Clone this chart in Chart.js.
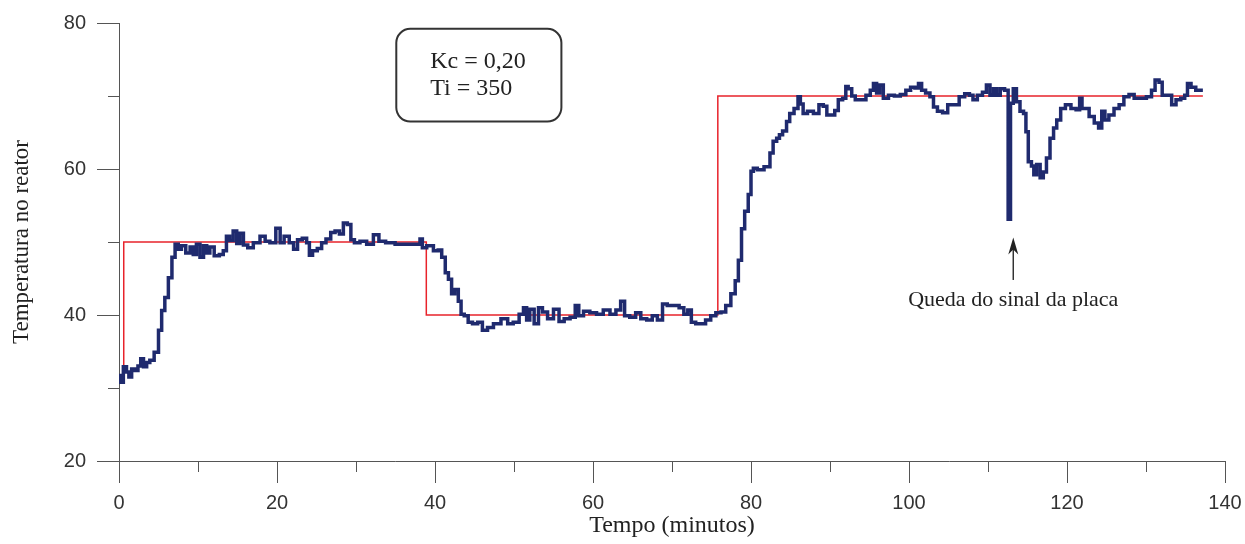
<!DOCTYPE html>
<html>
<head>
<meta charset="utf-8">
<script src="https://cdn.jsdelivr.net/npm/chart.js@4/dist/chart.umd.min.js"></script>
<style>
  body { margin: 0; background: #fff; }
  canvas { display: block; }
</style>
</head>
<body>
<canvas id="grafico" width="1245" height="544"></canvas>
<script>
// Temperatura medida (linha azul)
var tempo = [0.0,0.3,0.8,1.1,1.4,1.8,2.2,2.6,2.9,3.3,3.7,4.1,4.8,5.2,5.6,6.0,6.5,6.9,7.3,7.7,
  8.1,8.8,9.2,9.6,10.0,10.5,10.9,11.3,11.7,12.4,13.0,13.4,13.8,14.2,14.7,15.1,15.5,16.0,16.6,17.4,
  18.3,18.7,19.5,20.2,20.6,21.2,21.9,22.3,22.9,23.5,24.0,24.2,24.8,25.4,25.9,26.5,27.1,27.6,28.2,28.6,
  29.2,29.5,30.1,30.9,31.8,32.6,33.2,34.3,35.6,36.8,37.9,38.3,38.5,39.4,40.2,40.6,41.1,41.5,41.9,42.3,
  42.7,43.2,43.4,44.0,44.4,45.1,45.7,46.3,47.0,47.8,48.9,49.5,50.3,51.0,51.4,51.8,52.2,52.9,53.3,53.9,
  54.6,55.4,56.0,56.7,57.5,58.0,58.4,59.2,60.0,60.9,61.7,62.6,63.2,63.8,64.2,65.1,65.7,66.4,67.2,67.8,
  68.5,69.1,69.7,70.6,71.2,71.8,72.2,72.7,73.3,73.9,74.6,75.2,75.9,76.5,77.1,77.8,78.2,78.6,79.0,79.4,
  79.9,80.1,80.5,81.1,82.2,82.6,83.0,83.5,83.7,84.3,84.7,85.1,85.8,86.1,86.4,86.8,87.5,88.3,88.9,89.4,
  89.8,90.4,90.8,91.3,91.9,92.1,92.5,93.0,93.4,94.2,94.9,95.3,95.7,96.1,96.5,97.0,97.8,98.5,99.3,99.9,
  100.5,101.0,101.4,101.8,102.4,102.9,103.3,103.9,104.6,105.2,106.0,106.7,107.4,107.9,108.3,109.0,109.6,110.0,110.5,110.9,
  111.3,111.8,112.4,112.7,113.0,113.4,113.8,114.3,114.7,114.9,115.3,115.7,115.9,116.4,116.8,117.2,117.6,118.1,118.5,
  118.9,119.5,120.1,120.9,121.4,121.8,122.0,122.5,123.1,123.8,124.2,124.6,125.0,125.6,126.3,126.9,127.5,128.2,128.8,129.6,
  130.5,130.9,131.4,131.9,132.2,133.0,133.5,134.1,134.7,135.1,135.4,136.0,136.6,137.2];
var temperatura = [31.7,30.8,32.9,32.2,31.5,32.6,32.4,33.0,34.0,32.9,33.5,33.8,34.9,37.9,40.6,42.4,45.1,47.9,49.7,49.0,
  49.5,48.5,49.3,48.3,49.7,47.9,49.5,48.5,49.3,48.1,48.3,48.8,50.8,50.2,51.5,49.8,51.2,49.6,49.2,49.9,
  50.8,50.1,49.9,51.9,49.9,50.8,49.9,49.0,50.3,50.5,49.9,48.2,48.8,49.1,49.9,50.4,51.3,51.5,51.1,52.6,
  52.4,50.3,49.9,50.1,49.7,51.0,50.1,49.9,49.7,49.7,49.7,50.4,49.2,49.5,48.8,48.9,47.9,45.8,44.9,42.9,
  43.5,41.9,40.1,39.9,39.0,38.8,39.0,37.9,38.3,38.8,39.5,38.8,39.0,40.1,41.0,39.3,40.8,38.8,41.0,40.4,
  39.5,40.8,39.1,39.5,39.7,41.3,39.9,40.5,40.3,40.1,40.7,40.1,40.7,41.9,39.9,39.7,40.3,39.5,39.3,39.9,
  39.3,41.5,41.3,41.3,41.0,40.1,40.7,39.0,38.8,38.8,39.3,39.9,40.3,40.4,41.3,42.9,44.7,47.5,51.8,54.2,
  56.5,59.7,60.1,59.9,60.3,62.2,63.8,64.2,64.7,65.2,66.5,67.6,68.3,69.9,68.9,67.6,67.9,67.6,68.8,68.6,
  67.4,67.4,68.0,69.5,69.7,71.3,71.0,70.0,69.5,69.5,70.1,70.8,71.7,70.4,71.5,69.7,70.1,70.0,70.2,70.8,
  71.2,71.1,71.7,70.8,70.4,69.9,68.5,67.9,67.7,68.8,68.8,69.9,70.3,70.1,69.5,70.1,70.5,71.5,70.1,71.0,
  70.1,71.0,70.8,53.1,69.0,71.0,69.2,67.9,67.6,65.1,61.0,60.4,59.2,60.6,58.8,59.6,61.5,64.2,65.6,
  66.7,68.3,68.8,68.3,68.1,69.7,68.3,68.3,67.2,66.3,65.6,67.9,66.7,67.4,68.3,68.8,69.9,70.2,69.7,69.7,
  69.9,70.8,72.2,71.9,70.1,70.1,68.8,69.5,69.7,70.1,71.7,71.2,70.8,70.8];

// Setpoint (linha vermelha)
var spTempo = [0.6, 0.6, 38.9, 38.9, 75.8, 75.8, 137.2];
var spValor = [33, 50, 50, 40, 40, 70, 70];

// Eixos
var xTicks = [0, 20, 40, 60, 80, 100, 120, 140];
var xMenores = [10, 30, 50, 70, 90, 110, 130];
var yTicks = [20, 40, 60, 80];
var yMenores = [30, 50, 70];

var corEixo = "#555";
var serif = "'Liberation Serif', 'Times New Roman', serif";
var sans = "'Liberation Sans', Arial, sans-serif";

function pares(xs, ys) {
  return xs.map(function (x, i) { return { x: x, y: ys[i] }; });
}

// ticks menores, caixa de parametros e seta
var extras = {
  id: "extras",
  afterDraw: function (chart) {
    var c = chart.ctx;
    var sx = chart.scales.x, sy = chart.scales.y;
    c.save();
    c.strokeStyle = corEixo;
    c.lineWidth = 1;
    c.beginPath();
    xMenores.forEach(function (v) {
      var px = Math.round(sx.getPixelForValue(v)) + 0.5;
      c.moveTo(px, sy.bottom);
      c.lineTo(px, sy.bottom + 11);
    });
    yMenores.forEach(function (v) {
      var py = Math.round(sy.getPixelForValue(v)) + 0.5;
      c.moveTo(sx.left - 11, py);
      c.lineTo(sx.left, py);
    });
    c.stroke();

    // caixa Kc / Ti
    var bx = sx.getPixelForValue(35.1), bx2 = sx.getPixelForValue(56.0);
    var by = sy.getPixelForValue(79.2), by2 = sy.getPixelForValue(66.5);
    c.strokeStyle = "#333";
    c.lineWidth = 2;
    c.beginPath();
    c.roundRect(bx, by, bx2 - bx, by2 - by, 14);
    c.stroke();
    c.fillStyle = "#222";
    c.font = "24px " + serif;
    c.textAlign = "left";
    c.textBaseline = "alphabetic";
    c.fillText("Kc = 0,20", sx.getPixelForValue(39.4), sy.getPixelForValue(73.8));
    c.fillText("Ti = 350", sx.getPixelForValue(39.4), sy.getPixelForValue(70.1));

    // seta e texto
    var ax = sx.getPixelForValue(113.2);
    var topo = sy.getPixelForValue(50.6), base = sy.getPixelForValue(44.8);
    c.strokeStyle = "#333";
    c.lineWidth = 1.5;
    c.beginPath();
    c.moveTo(ax, base);
    c.lineTo(ax, topo + 8);
    c.stroke();
    c.beginPath();
    c.moveTo(ax, topo);
    c.lineTo(ax - 5, topo + 17);
    c.lineTo(ax, topo + 12);
    c.lineTo(ax + 5, topo + 17);
    c.closePath();
    c.fill();
    c.font = "22px " + serif;
    c.textAlign = "center";
    c.fillText("Queda do sinal da placa", ax, sy.getPixelForValue(41.3));
    c.restore();
  }
};

new Chart(document.getElementById("grafico"), {
  type: "scatter",
  data: {
    datasets: [{
      label: "Temperatura",
      data: pares(tempo, temperatura),
      showLine: true,
      stepped: "middle",
      borderColor: "#1f2a6e",
      borderWidth: 3.5,
      pointRadius: 0
    }, {
      label: "Setpoint",
      data: pares(spTempo, spValor),
      showLine: true,
      borderColor: "#e8232b",
      borderWidth: 1.5,
      pointRadius: 0,
      tension: 0
    }]
  },
  options: {
    responsive: false,
    animation: false,
    layout: { padding: { top: 21, right: 20, left: 0, bottom: 0 } },
    plugins: { legend: { display: false }, tooltip: { enabled: false } },
    scales: {
      x: {
        type: "linear", min: 0, max: 140,
        afterBuildTicks: function (s) { s.ticks = xTicks.map(function (v) { return { value: v }; }); },
        afterFit: function (s) { s.height = 83; s.paddingRight = 0; s.paddingLeft = 0; },
        ticks: { font: { family: sans, size: 20 }, color: "#333", padding: 8, maxRotation: 0 },
        grid: { drawOnChartArea: false, tickLength: 22, color: corEixo },
        border: { color: corEixo },
        title: { display: true, text: "Tempo (minutos)", font: { family: serif, size: 24 }, color: "#222", padding: { top: 0, bottom: 4 } }
      },
      y: {
        type: "linear", min: 20, max: 80,
        afterBuildTicks: function (s) { s.ticks = yTicks.map(function (v) { return { value: v }; }); },
        afterFit: function (s) { s.width = 119; },
        ticks: { font: { family: sans, size: 20 }, color: "#333", padding: 11 },
        grid: { drawOnChartArea: false, tickLength: 22, color: corEixo },
        border: { color: corEixo },
        title: { display: true, text: "Temperatura no reator", font: { family: serif, size: 23 }, color: "#222", padding: { top: 8, bottom: 0 } }
      }
    }
  },
  plugins: [extras]
});
</script>
</body>
</html>
